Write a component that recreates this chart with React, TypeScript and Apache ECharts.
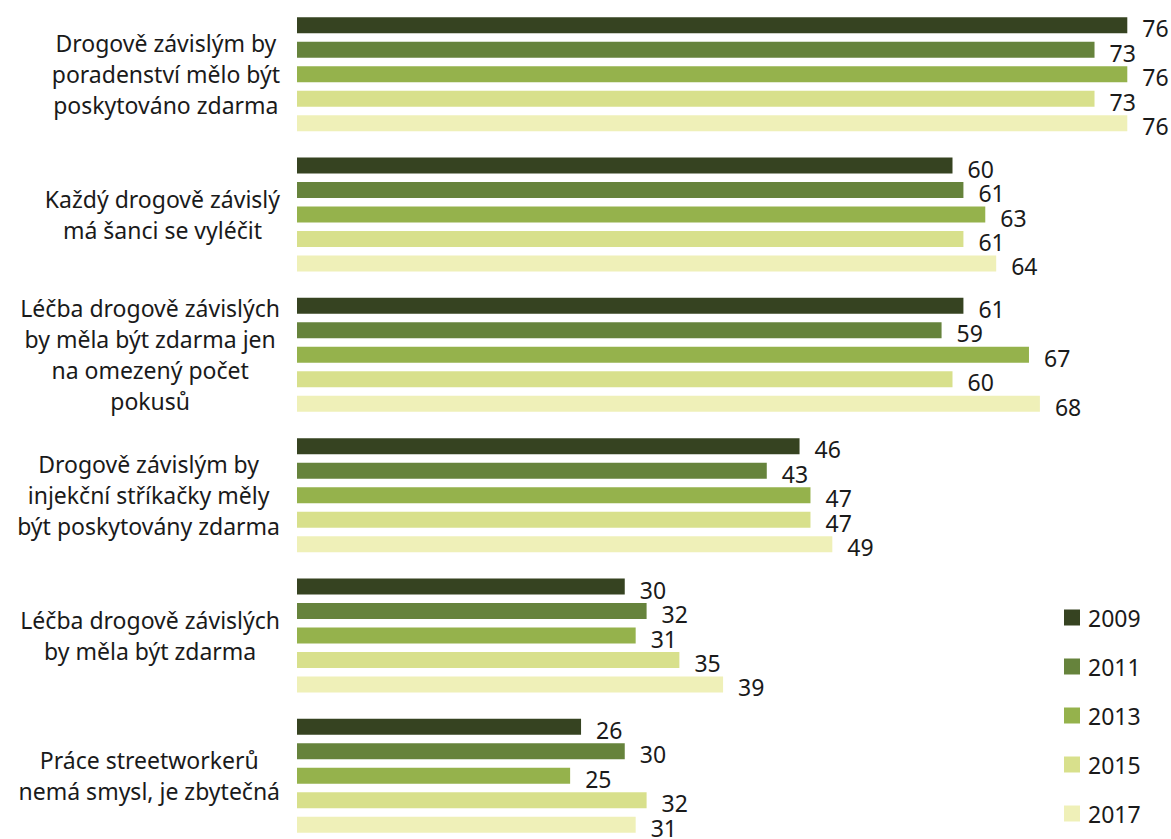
import React, { useEffect, useRef } from "react";
import * as echarts from "echarts";

const categories = [
  "Drogově závislým by\nporadenství mělo být\nposkytováno zdarma",
  "Každý drogově závislý\nmá šanci se vyléčit",
  "Léčba drogově závislých\nby měla být zdarma jen\nna omezený počet\npokusů",
  "Drogově závislým by\ninjekční stříkačky měly\nbýt poskytovány zdarma",
  "Léčba drogově závislých\nby měla být zdarma",
  "Práce streetworkerů\nnemá smysl, je zbytečná",
];

const years = ["2009", "2011", "2013", "2015", "2017"];
const colors = ["#364321", "#66833c", "#95b24c", "#d8e08c", "#eff0b8"];

const v2009 = [76, 60, 61, 46, 30, 26];
const v2011 = [73, 61, 59, 43, 32, 30];
const v2013 = [76, 63, 67, 47, 31, 25];
const v2015 = [73, 61, 60, 47, 35, 32];
const v2017 = [76, 64, 68, 49, 39, 31];
const seriesValues = [v2009, v2011, v2013, v2015, v2017];

const FONT = "'Noto Sans', sans-serif";
const TEXT = "#1a1a1a";

export default function App() {
  const ref = useRef<HTMLDivElement>(null);
  useEffect(() => {
    if (!ref.current) return;
    const chart = echarts.init(ref.current, null, { renderer: "svg" });
    chart.setOption({
      animation: false,
      textStyle: { fontFamily: FONT },
      grid: { left: 297, right: 0, top: 4, height: 842, containLabel: false },
      legend: {
        orient: "vertical",
        left: 1064,
        top: 606,
        padding: 0,
        itemWidth: 16,
        itemHeight: 16,
        itemGap: 26,
        icon: "rect",
        data: years,
        textStyle: {
          fontSize: 23,
          color: TEXT,
          fontFamily: FONT,
          padding: [0, 0, 0, 3],
        },
      },
      xAxis: {
        type: "value",
        min: 0,
        max: 80,
        show: false,
      },
      yAxis: {
        type: "category",
        data: categories,
        inverse: true,
        axisLine: { show: false },
        axisTick: { show: false },
        splitLine: { show: false },
        axisLabel: {
          margin: 17,
          align: "right",
          fontSize: 23,
          color: TEXT,
          fontFamily: FONT,
          lineHeight: 31,
          formatter: (v: string) =>
            v.split("\n").map((l) => "{a|" + l + "}").join("\n"),
          rich: {
            a: { align: "center", fontSize: 23, lineHeight: 31, color: TEXT, fontFamily: FONT },
          },
        },
      },
      series: years.map((y, i) => ({
        name: y,
        type: "bar",
        data: seriesValues[i],
        barWidth: 16,
        barGap: "53%",
        itemStyle: { color: colors[i] },
        label: {
          show: true,
          position: "right",
          distance: 15,
          offset: [0, 3],
          fontSize: 23,
          color: TEXT,
          fontFamily: FONT,
        },
      })),
    });
    return () => chart.dispose();
  }, []);
  return (
    <div
      ref={ref}
      style={{ position: "absolute", left: 0, top: 0, width: 1171, height: 850 }}
    />
  );
}
